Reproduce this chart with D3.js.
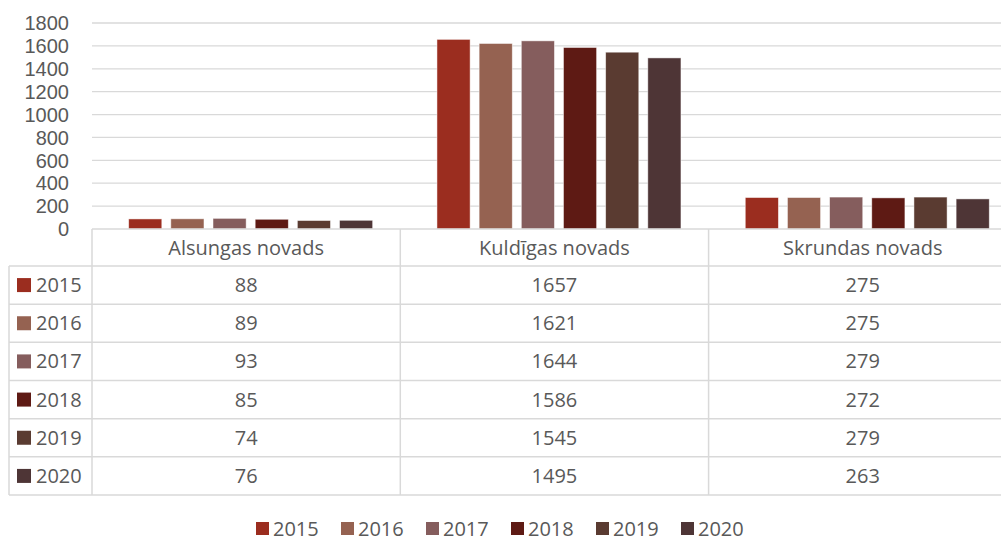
<!DOCTYPE html>
<html>
<head>
<meta charset="utf-8">
<script src="https://cdn.jsdelivr.net/npm/d3@7"></script>
<style>
  body { margin: 0; background: #fff; }
  text { font-family: "Open Sans", sans-serif; fill: #595959; }
  .ytick { font-family: "Liberation Sans", Arial, sans-serif; }
</style>
</head>
<body>
<div id="chart"></div>
<script>
const categories = ["Alsungas novads", "Kuldīgas novads", "Skrundas novads"];
const years = ["2015", "2016", "2017", "2018", "2019", "2020"];
const alsungas = [88, 89, 93, 85, 74, 76];
const kuldigas = [1657, 1621, 1644, 1586, 1545, 1495];
const skrundas = [275, 275, 279, 272, 279, 263];
const yTicks = [0, 200, 400, 600, 800, 1000, 1200, 1400, 1600, 1800];
const colors = ["#9b2d1f", "#956251", "#855d5d", "#5e1a14", "#5a3b31", "#4e3536"];

const seriesByCat = [alsungas, kuldigas, skrundas];

const width = 1001, height = 541;
const fontSize = 20;

const svg = d3.select("#chart")
  .append("svg")
  .attr("width", width)
  .attr("height", height);

const plotLeft = 92, catW = 308.3;
const x0 = d3.scaleBand()
  .domain(categories)
  .range([plotLeft, plotLeft + catW * categories.length]);

const groupW = 244;
const x1 = d3.scaleBand()
  .domain(years)
  .range([0, groupW])
  .paddingInner(0.214)
  .paddingOuter(0);

const y = d3.scaleLinear().domain([0, 1800]).range([229, 23]);

const color = d3.scaleOrdinal().domain(years).range(colors);

// gridlines
svg.append("g")
  .selectAll("line")
  .data(yTicks.slice(1))
  .enter()
  .append("line")
  .attr("x1", plotLeft)
  .attr("x2", x0.range()[1])
  .attr("y1", d => y(d))
  .attr("y2", d => y(d))
  .style("stroke", "#d9d9d9")
  .style("stroke-width", 1.3);

// y axis labels (liberation has a shorter line box so the tight ticks don't collide)
svg.append("g")
  .selectAll("text")
  .data(yTicks)
  .enter()
  .append("text")
  .attr("class", "ytick")
  .attr("x", 69)
  .attr("y", d => y(d))
  .attr("dy", "0.36em")
  .attr("text-anchor", "end")
  .style("font-size", fontSize + "px")
  .text(d => d);

// bars
const groups = svg.append("g")
  .selectAll("g")
  .data(categories)
  .enter()
  .append("g")
  .attr("transform", d => "translate(" + (x0(d) + (x0.bandwidth() - groupW + x1.step() - x1.bandwidth()) / 2) + ",0)");

groups.selectAll("rect")
  .data((c, i) => years.map((yr, j) => ({ year: yr, value: seriesByCat[i][j] })))
  .enter()
  .append("rect")
  .attr("x", d => x1(d.year))
  .attr("width", x1.bandwidth())
  .attr("y", d => y(d.value))
  .attr("height", d => y(0) - y(d.value))
  .style("fill", d => color(d.year))
  .style("stroke", "rgba(255,255,255,0.6)")
  .style("stroke-width", 0.8);

// data table
const headerTop = 229, headerBottom = 266, tableBottom = 495, tableLeft = 9;
const rowY = d3.scaleBand().domain(years).range([headerBottom, tableBottom]);
const lineColor = "#d9d9d9", lineW = 1.5;
const tbl = svg.append("g");
const right = x0.range()[1];

tbl.append("line")
  .attr("x1", plotLeft).attr("x2", right)
  .attr("y1", headerTop).attr("y2", headerTop)
  .style("stroke", lineColor).style("stroke-width", lineW);

tbl.selectAll(".hline")
  .data(years.concat(["end"]))
  .enter()
  .append("line")
  .attr("class", "hline")
  .attr("x1", tableLeft).attr("x2", right)
  .attr("y1", d => d === "end" ? tableBottom : rowY(d))
  .attr("y2", d => d === "end" ? tableBottom : rowY(d))
  .style("stroke", lineColor).style("stroke-width", lineW);

tbl.selectAll(".vline")
  .data(categories.concat(["end"]))
  .enter()
  .append("line")
  .attr("class", "vline")
  .attr("x1", d => d === "end" ? right : x0(d))
  .attr("x2", d => d === "end" ? right : x0(d))
  .attr("y1", headerTop).attr("y2", tableBottom)
  .style("stroke", lineColor).style("stroke-width", lineW);

tbl.append("line")
  .attr("x1", tableLeft).attr("x2", tableLeft)
  .attr("y1", headerBottom).attr("y2", tableBottom)
  .style("stroke", lineColor).style("stroke-width", lineW);

// header labels
tbl.selectAll(".cat")
  .data(categories)
  .enter()
  .append("text")
  .attr("class", "cat")
  .attr("x", d => x0(d) + x0.bandwidth() / 2)
  .attr("y", (headerTop + headerBottom) / 2)
  .attr("dy", "0.35em")
  .attr("text-anchor", "middle")
  .style("font-size", fontSize + "px")
  .text(d => d);

// row keys
const rows = tbl.selectAll(".row")
  .data(years)
  .enter()
  .append("g")
  .attr("class", "row")
  .attr("transform", d => "translate(0," + (rowY(d) + rowY.bandwidth() / 2) + ")");

rows.append("rect")
  .attr("x", 17).attr("y", -7)
  .attr("width", 14).attr("height", 14)
  .style("fill", d => color(d));

rows.append("text")
  .attr("x", 36)
  .attr("dy", "0.35em")
  .style("font-size", fontSize + "px")
  .text(d => d);

rows.selectAll(".val")
  .data((yr, j) => categories.map((c, i) => ({ cat: c, value: seriesByCat[i][j] })))
  .enter()
  .append("text")
  .attr("class", "val")
  .attr("x", d => x0(d.cat) + x0.bandwidth() / 2)
  .attr("dy", "0.35em")
  .attr("text-anchor", "middle")
  .style("font-size", fontSize + "px")
  .text(d => d.value);

// legend
const legX = d3.scaleBand().domain(years).range([256, 256 + 85 * years.length]);
const leg = svg.append("g")
  .selectAll("g")
  .data(years)
  .enter()
  .append("g")
  .attr("transform", d => "translate(" + legX(d) + ",529)");

leg.append("rect")
  .attr("x", 0).attr("y", -7)
  .attr("width", 13).attr("height", 13)
  .style("fill", d => color(d));

leg.append("text")
  .attr("x", 17)
  .attr("dy", "0.35em")
  .style("font-size", fontSize + "px")
  .text(d => d);
</script>
</body>
</html>
